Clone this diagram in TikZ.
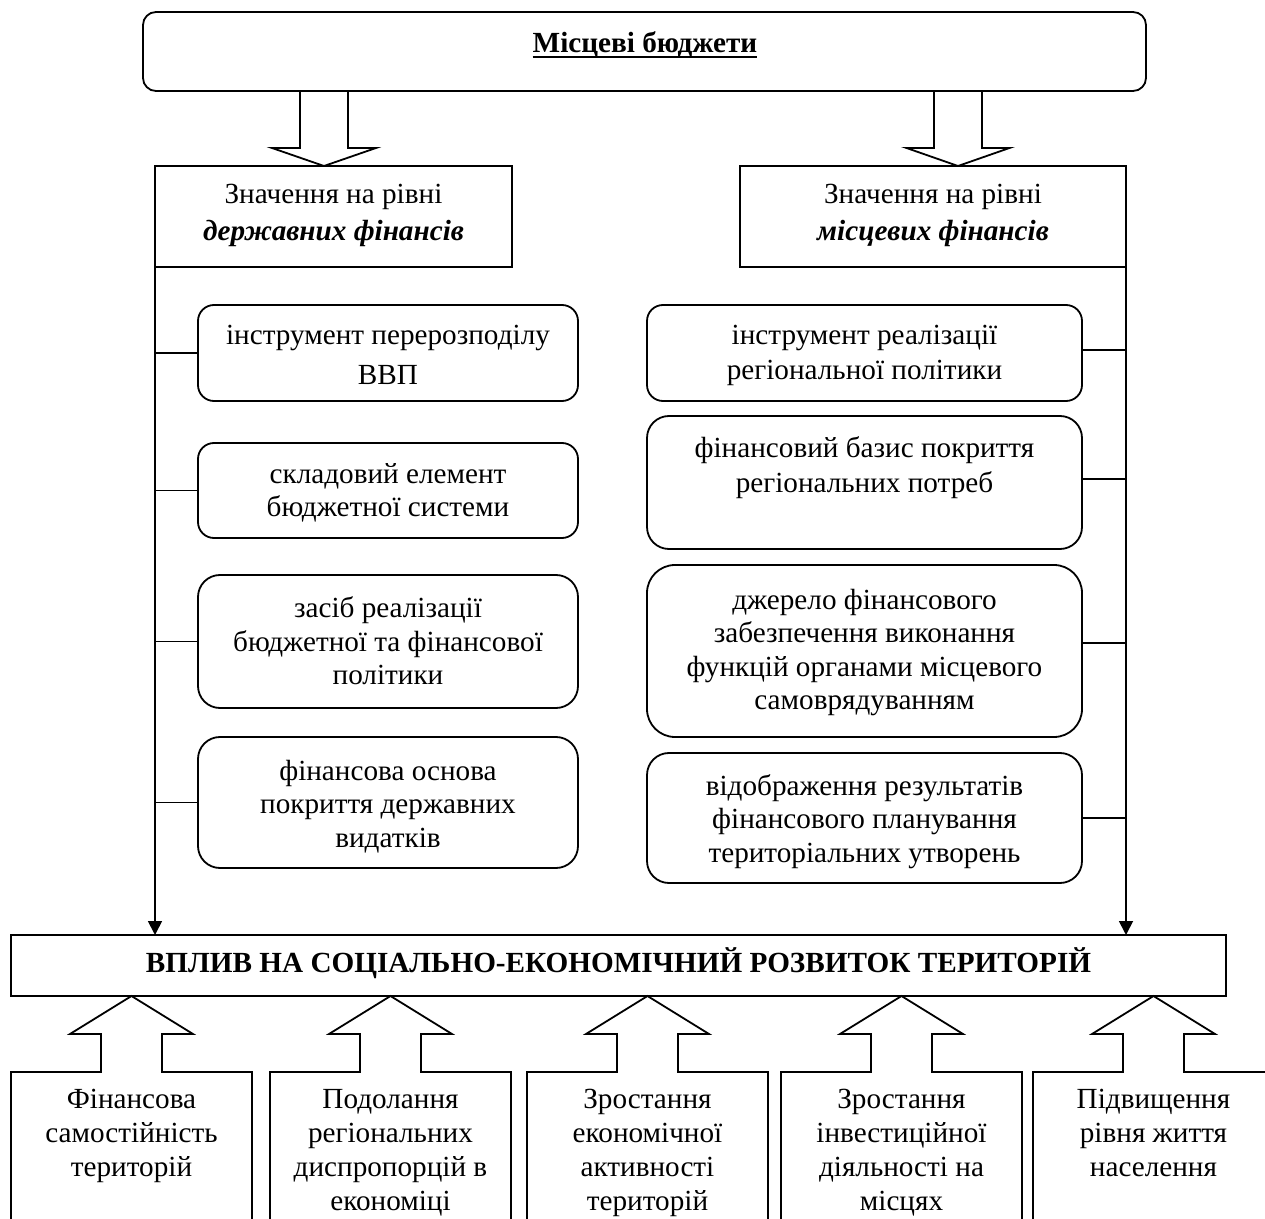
\documentclass[tikz,border=0pt]{standalone}
\usepackage{fontspec}
\setmainfont{Liberation Serif}
\usetikzlibrary{arrows.meta,calc}
\begin{document}
\begin{tikzpicture}[x=0.5pt, y=-0.5pt,
  every node/.style={inner sep=0pt, outer sep=0pt},
  frame/.style={draw, line width=0.9pt, anchor=north west},
  txt/.style={font=\fontsize{14.6}{16.75}\selectfont, align=center, anchor=base},
  link/.style={line width=0.9pt},
  flow/.style={link, -{Triangle[length=7pt,width=7pt]}},
  block/.style={line width=0.9pt, line join=miter},
]
\useasboundingbox (0,0) rectangle (1265,1219);

% heading box
\node[frame, rounded corners=6.5pt, minimum width=501.5pt, minimum height=39.5pt] (top) at (143,12) {};
\node[txt, font=\fontsize{14.6}{16.75}\selectfont\bfseries] (title) at (645,53) {Місцеві бюджети};
\draw[line width=1pt] ([yshift=-2.2pt]title.base west) -- ([yshift=-2.2pt]title.base east);

% two levels (text nodes are placed by the baseline of their last line)
\node[frame, minimum width=178.5pt, minimum height=50.5pt] (ZL) at (155,166) {};
\node[frame, minimum width=193pt, minimum height=50.5pt] (ZR) at (740,166) {};
\node[txt, font=\fontsize{14.6}{18.5}\selectfont] (ZLt) at (333.5,241) {Значення на рівні\\\textbf{\textit{державних фінансів}}};
\node[txt, font=\fontsize{14.6}{18.5}\selectfont] (ZRt) at (933,241) {Значення на рівні\\\textbf{\textit{місцевих фінансів}}};

% block arrows from the heading box
\draw[block] (324,166) coordinate (dl) -- ++(-52,-18) -- ++(28,0) -- ++(0,-57) -- ++(48,0) -- ++(0,57) -- ++(28,0) -- cycle;
\draw[block] (958,166) coordinate (dr) -- ++(-51.5,-18) -- ++(27.5,0) -- ++(0,-57) -- ++(48,0) -- ++(0,57) -- ++(27.5,0) -- cycle;

% state finance column
\node[frame, rounded corners=8pt, minimum width=190pt, minimum height=48pt] (L1) at (198,305) {};
\node[frame, rounded corners=8pt, minimum width=190pt, minimum height=47.5pt] (L2) at (198,443) {};
\node[frame, rounded corners=11pt, minimum width=190pt, minimum height=66.5pt] (L3) at (198,575) {};
\node[frame, rounded corners=11pt, minimum width=190pt, minimum height=65.5pt] (L4) at (198,737) {};
\node[txt, font=\fontsize{14.6}{20}\selectfont] (L1t) at (388,385) {інструмент перерозподілу\\ВВП};
\node[txt, font=\fontsize{14.6}{17}\selectfont] (L2t) at (388,517) {складовий елемент\\бюджетної системи};
\node[txt] (L3t) at (388,685) {засіб реалізації\\бюджетної та фінансової\\політики};
\node[txt] (L4t) at (388,847) {фінансова основа\\покриття державних\\видатків};

% local finance column
\node[frame, rounded corners=8pt, minimum width=217.5pt, minimum height=48pt] (R1) at (647,305) {};
\node[frame, rounded corners=11pt, minimum width=217.5pt, minimum height=66.5pt] (R2) at (647,416) {};
\node[frame, rounded corners=14pt, minimum width=217.5pt, minimum height=86pt] (R3) at (647,565) {};
\node[frame, rounded corners=11pt, minimum width=217.5pt, minimum height=65pt] (R4) at (647,753) {};
\node[txt, font=\fontsize{14.6}{17.5}\selectfont] (R1t) at (864.5,380) {інструмент реалізації\\регіональної політики};
\node[txt, font=\fontsize{14.6}{17.5}\selectfont] (R2t) at (864.5,493) {фінансовий базис покриття\\регіональних потреб};
\node[txt] (R3t) at (864.5,710) {джерело фінансового\\забезпечення виконання\\функцій органами місцевого\\самоврядуванням};
\node[txt] (R4t) at (864.5,862) {відображення результатів\\фінансового планування\\територіальних утворень};

% impact box
\node[frame, minimum width=607.5pt, minimum height=30.5pt] (big) at (11,935) {};
\node[txt, font=\fontsize{14.6}{16.75}\selectfont\bfseries] (bigt) at (618.5,972) {ВПЛИВ НА СОЦІАЛЬНО-ЕКОНОМІЧНИЙ РОЗВИТОК ТЕРИТОРІЙ};

% side branches
\foreach \b in {L1,L2,L3,L4}
  \draw[link] (\b.west) -- (\b.west -| ZL.west);
\draw[link] ([yshift=1.5pt]R1.east) coordinate (r1) -- (r1 -| ZR.east);
\draw[link] ([yshift=1.7pt]R2.east) coordinate (r2) -- (r2 -| ZR.east);
\draw[link] ([yshift=4pt]R3.east) coordinate (r3) -- (r3 -| ZR.east);
\draw[link] (R4.east) -- (R4.east -| ZR.east);

% trunks to the impact box
\draw[flow] (ZL.south west) -- (ZL.south west |- big.north);
\draw[flow] (ZR.south east) -- (ZR.south east |- big.north);

% factor boxes with upward arrows
\foreach \cx/\ly/\nm/\lab in {
  131.5/1176/C1/{Фінансова\\самостійність\\територій},
  390.5/1210/C2/{Подолання\\регіональних\\диспропорцій в\\економіці},
  647.5/1210/C3/{Зростання\\економічної\\активності\\територій},
  901.5/1210/C4/{Зростання\\інвестиційної\\діяльності на\\місцях},
  1153.5/1176/C5/{Підвищення\\рівня життя\\населення}}{
  \draw[block] (\cx-120.5,1240) -- (\cx-120.5,1072) -- (\cx-30.5,1072) -- (\cx-30.5,1034)
    -- (\cx-61.5,1034) -- (\cx,996) -- (\cx+61.5,1034) -- (\cx+30.5,1034)
    -- (\cx+30.5,1072) -- (\cx+120.5,1072) -- (\cx+120.5,1240);
  \node[txt, font=\fontsize{14.6}{17}\selectfont] (\nm) at (\cx,\ly) {\lab};
}
\end{tikzpicture}
\end{document}
